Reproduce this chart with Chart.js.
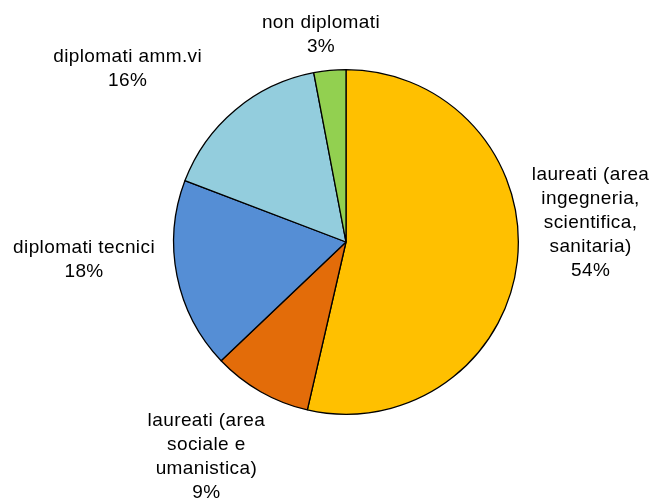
<!DOCTYPE html>
<html>
<head>
<meta charset="utf-8">
<script src="https://cdn.jsdelivr.net/npm/chart.js@4/dist/chart.umd.min.js"></script>
<style>
  html, body { margin: 0; padding: 0; background: #fff; }
  #wrap { width: 654px; height: 499px; }
</style>
</head>
<body>
<div id="wrap"><canvas id="pie"></canvas></div>
<script>
// Dati (in senso orario partendo dall'alto)
const categorie = [
    ['laureati (area', 'ingegneria,', 'scientifica,', 'sanitaria)'],
    ['laureati (area', 'sociale e', 'umanistica)'],
    ['diplomati tecnici'],
    ['diplomati amm.vi'],
    ['non diplomati']
];
const percentuali = [53.6, 9.3, 17.9, 16.2, 3.0];
const colori = ['#FFC000', '#E36C09', '#558ED5', '#93CDDD', '#92D050'];

// Posizione delle etichette rispetto al centro, in raggi
const posEtichette = [
    [1.419, -0.110],
    [-0.810, 1.245],
    [-1.520, 0.105],
    [-1.267, -1.005],
    [-0.145, -1.205]
];

// Disegna le etichette esterne con nome e percentuale
const etichettePlugin = {
    id: 'etichette',
    afterDatasetsDraw(chart) {
        const ctx = chart.ctx;
        const meta = chart.getDatasetMeta(0);
        ctx.save();
        ctx.font = '19px "Liberation Sans", Arial, sans-serif';
        if ('letterSpacing' in ctx) ctx.letterSpacing = '0.4px';
        ctx.fillStyle = '#000';
        ctx.textAlign = 'center';
        ctx.textBaseline = 'middle';
        const lh = 24;
        meta.data.forEach((arc, i) => {
            const r = arc.outerRadius;
            const cx = arc.x + posEtichette[i][0] * r;
            const cy = arc.y + posEtichette[i][1] * r;
            const righe = categorie[i].concat([Math.round(percentuali[i]) + '%']);
            const y0 = cy - (righe.length - 1) * lh / 2;
            righe.forEach((t, k) => ctx.fillText(t, cx, y0 + k * lh));
        });
        ctx.restore();
    }
};

new Chart(document.getElementById('pie'), {
    type: 'pie',
    data: {
        labels: categorie.map(c => c.join(' ')),
        datasets: [{
            data: percentuali,
            backgroundColor: colori,
            borderColor: '#000',
            borderWidth: 1.3
        }]
    },
    options: {
        responsive: true,
        maintainAspectRatio: false,
        animation: false,
        layout: { padding: { left: 173, right: 135, top: 69, bottom: 84 } },
        plugins: {
            legend: { display: false },
            tooltip: { enabled: false }
        }
    },
    plugins: [etichettePlugin]
});
</script>
</body>
</html>
